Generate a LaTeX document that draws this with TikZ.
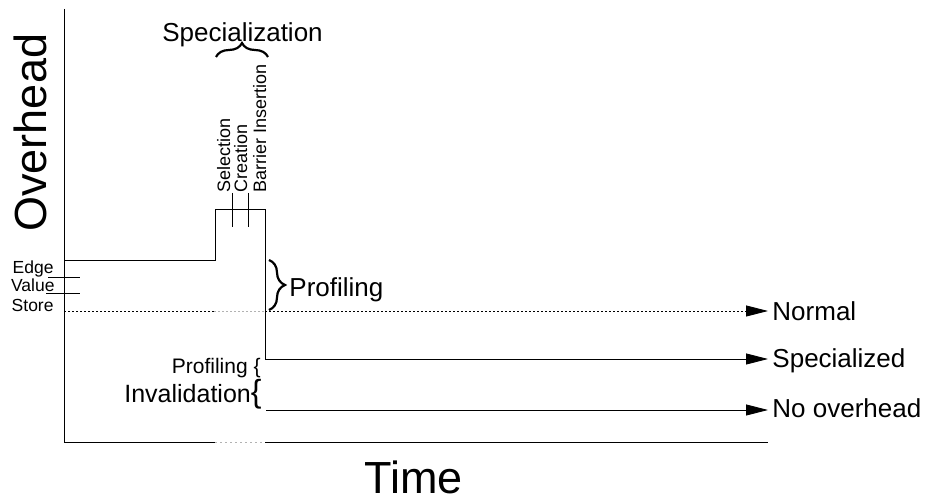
\documentclass[tikz,border=0pt]{standalone}
\usepackage{fontspec}
\setmainfont{Liberation Sans}
\usetikzlibrary{arrows.meta,decorations.pathreplacing}

\begin{document}
\begin{tikzpicture}[x=1pt,y=-1pt,
  line width=0.9pt,
  flow/.style={-{Triangle[length=22pt,width=11pt]}},
  dotline/.style={dash pattern=on 2pt off 2pt},
  faint/.style={draw=black!30},
  lbl/.style={inner sep=0pt, font=\fontsize{26}{26}\selectfont},
  tick/.style={inner sep=0pt, anchor=base east, font=\fontsize{17.5}{17.5}\selectfont},
  phase/.style={inner sep=0pt, rotate=90, anchor=base west, font=\fontsize{18}{18}\selectfont},
  big/.style={inner sep=0pt, font=\fontsize{45}{45}\selectfont},
  bracedec/.style={decorate, decoration={brace, amplitude=#1}, line width=2.2pt},
]
\useasboundingbox (0,0) rectangle (927,502);

% axes
\coordinate (ytop) at (64,9);
\coordinate (origin) at (64,442);
\coordinate (gapL) at (215,442);
\coordinate (gapR) at (265,442);
\coordinate (xend) at (768,442);
\draw (ytop) -- (origin) -- (gapL);
\draw[faint, dash pattern=on 2pt off 3pt] (gapL) -- (gapR);
\draw (gapR) -- (xend);

\node[big, rotate=90, anchor=base west] (ylabel) at (46,232) {Overhead};
\node[big, anchor=base] (xlabel) at (413.5,494) {Time};

% profiled run with the specialization spike
\coordinate (p0) at (64,260);
\coordinate (p1) at (215,260);
\coordinate (p2) at (215,209);
\coordinate (p3) at (265,209);
\coordinate (p4) at (265,359);
\coordinate (sEnd) at (768,359);
\draw[flow] (p0) -- (p1) -- (p2) -- (p3) -- (p4) -- (sEnd);

% phases inside the spike
\coordinate (t1a) at (232,193);
\coordinate (t1b) at (232,227);
\coordinate (t2a) at (248,193);
\coordinate (t2b) at (248,227);
\draw (t1a) -- (t1b);
\draw (t2a) -- (t2b);
\node[phase] (sel) at (230,193) {Selection};
\node[phase] (cre) at (247,193) {Creation};
\node[phase] (bar) at (266,193) {Barrier Insertion};

\coordinate (bl) at (216,57);
\coordinate (br) at (268,57);
\draw[bracedec=14pt] (bl) -- (br);
\node[lbl, anchor=base] (spec) at (242.5,42) {Specialization};

% profiling levels on the left
\coordinate (e1a) at (48,277);
\coordinate (e1b) at (80,277);
\coordinate (e2a) at (46,293);
\coordinate (e2b) at (80,293);
\draw (e1a) -- (e1b);
\draw (e2a) -- (e2b);
\node[tick] (edge) at (54,274) {Edge};
\node[tick] (value) at (55,292) {Value};
\node[tick] (store) at (54,312) {Store};

% normal run
\coordinate (n0) at (64,311);
\coordinate (n1) at (214,311);
\coordinate (n2) at (265,311);
\coordinate (nEnd) at (768,311);
\draw[dotline] (n0) -- (n1);
\draw[dotline, faint] (n1) -- (n2);
\draw[dotline, flow] (n2) -- (nEnd);

% profiling overhead brace
\coordinate (pt) at (269,260);
\coordinate (pb) at (269,310);
\draw[bracedec=16pt] (pt) -- (pb);
\node[lbl, anchor=base west] (prof) at (289,297) {Profiling};

% run without overhead
\coordinate (z0) at (266,410);
\coordinate (zEnd) at (768,410);
\draw[flow] (z0) -- (zEnd);

\node[inner sep=0pt, anchor=base east, font=\fontsize{21}{21}\selectfont] (profinv) at (261,374) {Profiling \{};
\node[inner sep=0pt, anchor=base east, font=\fontsize{25}{25}\selectfont] (inval) at (262,403) {Invalidation{\fontsize{32}{32}\selectfont\{}};

% run labels
\node[lbl, anchor=base west] (normal) at (772,321) {Normal};
\node[lbl, anchor=base west] (special) at (772,368) {Specialized};
\node[lbl, anchor=base west] (noover) at (772,418) {No overhead};
\end{tikzpicture}
\end{document}
